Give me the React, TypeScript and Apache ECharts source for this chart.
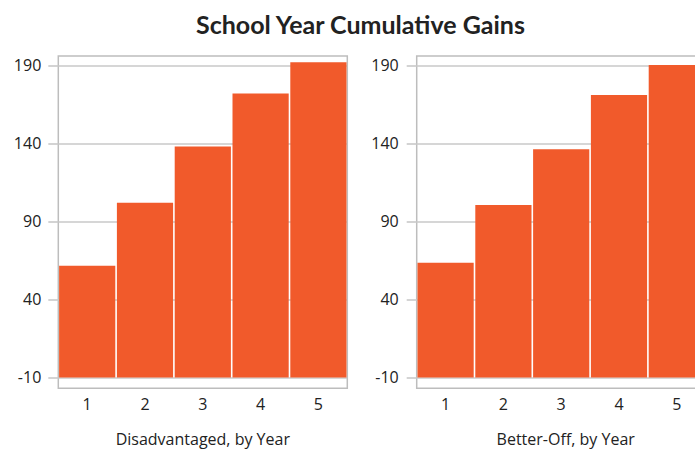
import React, { useEffect, useRef } from 'react';
import * as echarts from 'echarts';

const years = ['1', '2', '3', '4', '5'];
const disadvantaged = [61.5, 102, 138, 172, 192];
const betterOff = [63.5, 100.5, 136.2, 171, 190.3];
const yTicks = [-10, 40, 90, 140, 190];
const baseValue = -10;
const titleText = 'School Year Cumulative Gains';
const leftName = 'Disadvantaged, by Year';
const rightName = 'Better-Off, by Year';

const BAR_COLOR = '#f15a2b';
const GRID_COLOR = '#c9c9c9';
const BORDER_COLOR = '#bdbdbd';
const TEXT_COLOR = '#222';
const FONT = '"Open Sans", "DejaVu Sans", sans-serif';

function makeRenderItem() {
  return (params: any, api: any) => {
    const i = api.value(0);
    const v = api.value(1);
    const top = api.coord([i, v]);
    const bottom = api.coord([i, baseValue]);
    const w = api.size([1, 0])[0];
    return {
      type: 'rect',
      shape: { x: top[0] - w / 2 + 0.8, y: top[1], width: w - 1.6, height: bottom[1] - top[1] },
      style: { fill: BAR_COLOR },
    };
  };
}

export default function App() {
  const ref = useRef<HTMLDivElement>(null);
  useEffect(() => {
    if (!ref.current) return;
    const chart = echarts.init(ref.current, null, { renderer: 'svg' });
    const xAxisBase = (name: string, gridIndex: number, pad: number) => ({
      type: 'category',
      gridIndex,
      data: years,
      boundaryGap: true,
      name,
      nameLocation: 'middle',
      nameGap: 43,
      nameTextStyle: { fontFamily: FONT, fontSize: 16, color: TEXT_COLOR, padding: [0, 0, 0, pad] },
      axisLine: { show: false },
      axisTick: { show: false },
      axisLabel: { fontFamily: FONT, fontSize: 16, color: TEXT_COLOR, margin: 8 },
      splitLine: { show: false },
    });
    const yAxisBase = (gridIndex: number, margin: number) => ({
      type: 'value',
      gridIndex,
      min: -17,
      max: 196,
      axisLine: { show: false },
      axisTick: { show: true, length: 10, customValues: yTicks, lineStyle: { color: GRID_COLOR, width: 1.6 } },
      axisLabel: { customValues: yTicks, fontFamily: FONT, fontSize: 16, color: TEXT_COLOR, margin },
      splitLine: { show: true, customValues: yTicks, lineStyle: { color: GRID_COLOR, width: 1.6 } },
    });
    chart.setOption({
      animation: false,
      backgroundColor: '#fff',
      title: {
        text: titleText,
        left: 191,
        top: 6,
        textStyle: { fontFamily: 'Lato, "DejaVu Sans", sans-serif', fontWeight: 'bold', fontSize: 25, color: TEXT_COLOR },
      },
      grid: [
        { left: 58.3, top: 56, right: 347.7, bottom: 60.7, outerBoundsMode: 'none', containLabel: false, show: true, borderColor: BORDER_COLOR, borderWidth: 1.5, backgroundColor: 'transparent' },
        { left: 416.7, top: 56, right: -10.7, bottom: 60.7, outerBoundsMode: 'none', containLabel: false, show: true, borderColor: BORDER_COLOR, borderWidth: 1.5, backgroundColor: 'transparent' },
      ],
      xAxis: [xAxisBase(leftName, 0, 0), xAxisBase(rightName, 1, 9)],
      yAxis: [yAxisBase(0, 17), yAxisBase(1, 18)],
      series: [
        {
          type: 'custom',
          xAxisIndex: 0,
          yAxisIndex: 0,
          renderItem: makeRenderItem(),
          encode: { x: 0, y: 1 },
          data: disadvantaged.map((v, i) => [i, v]),
        },
        {
          type: 'custom',
          xAxisIndex: 1,
          yAxisIndex: 1,
          renderItem: makeRenderItem(),
          encode: { x: 0, y: 1 },
          data: betterOff.map((v, i) => [i, v]),
        },
      ],
    });
    return () => chart.dispose();
  }, []);
  return <div ref={ref} style={{ position: 'absolute', left: 0, top: 0, width: 695, height: 449 }} />;
}
